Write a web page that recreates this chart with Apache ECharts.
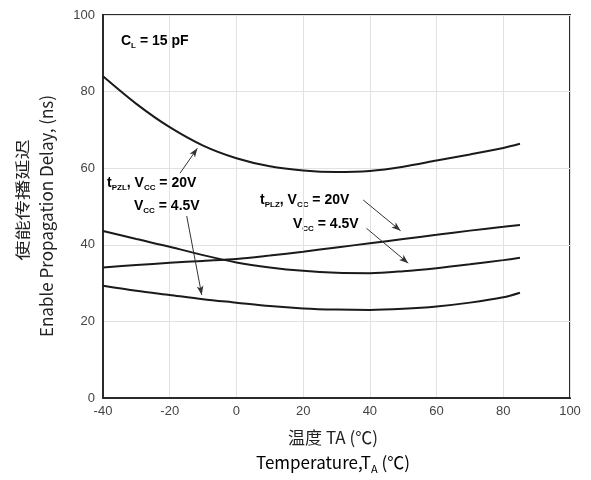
<!DOCTYPE html>
<html><head><meta charset="utf-8">
<script src="https://cdn.jsdelivr.net/npm/echarts@6/dist/echarts.min.js"></script>
<style>html,body{margin:0;padding:0;background:#fff}#c{width:591px;height:480px}</style>
</head><body><div id="c"></div>
<script>
var temps  = [-40, -30, -20, -10, 0, 10, 20, 30, 40, 50, 60, 70, 80, 85];
var tpzl20 = [84.0, 76.8, 70.7, 65.9, 62.6, 60.5, 59.4, 59.0, 59.3, 60.4, 62.0, 63.6, 65.3, 66.4];
var tplz45 = [43.6, 41.5, 39.5, 37.3, 35.4, 34.1, 33.2, 32.7, 32.6, 33.1, 33.9, 34.9, 36.0, 36.6];
var tplz20 = [34.1, 34.7, 35.3, 35.8, 36.3, 37.2, 38.2, 39.3, 40.4, 41.5, 42.6, 43.7, 44.7, 45.2];
var tpzl45 = [29.3, 28.0, 26.9, 25.8, 24.9, 24.0, 23.4, 23.1, 23.0, 23.3, 23.9, 24.9, 26.3, 27.5];
var xTicks = [-40, -20, 0, 20, 40, 60, 80, 100];
var yTicks = [0, 20, 40, 60, 80, 100];
var arrows = [
  [[-16.9, 58.7], [-11.7, 65.2]],
  [[-14.9, 47.5], [-10.4, 26.9]],
  [[38.0, 51.7], [49.2, 43.7]],
  [[39.0, 44.3], [51.5, 35.2]]
];

function pairs(ys){ return temps.map(function(t,i){return [t, ys[i]];}); }
var curves = [tpzl20, tplz45, tplz20, tpzl45];
var series = curves.map(function(c){
  return {type:'line', data:pairs(c), smooth:0.3, symbol:'none',
    lineStyle:{color:'#1a1a1a', width:2}, silent:true};
});
series.push({type:'line', data:[], markLine:{
  silent:true, symbol:['none','arrow'], symbolSize:[5,9],
  lineStyle:{color:'#333', width:1, type:'solid'}, label:{show:false},
  data: arrows.map(function(a){return [{coord:a[0]},{coord:a[1]}];})
}});

var rich = {
  m:{fontSize:14, fontWeight:'bold', fontFamily:'Liberation Sans, Arial', color:'#111', lineHeight:18, verticalAlign:'middle'},
  s:{fontSize:8, fontWeight:'bold', fontFamily:'Liberation Sans, Arial', color:'#111', lineHeight:9, verticalAlign:'bottom'}
};
function ann(x, y, txt){
  return {type:'text', left:x, top:y, style:{text:txt, rich:rich}};
}
var chart = echarts.init(document.getElementById('c'));
chart.setOption({
  animation:false,
  grid:{left:103, top:15, right:21, bottom:82, show:true, borderColor:'#2a2a2a', borderWidth:2, backgroundColor:'transparent'},
  xAxis:{type:'value', min:xTicks[0], max:xTicks[xTicks.length-1], interval:20,
    axisLine:{show:true, onZero:false, lineStyle:{color:'#2a2a2a', width:2}}, axisTick:{show:false},
    axisLabel:{color:'#444', fontSize:13, fontFamily:'Liberation Sans, Arial', margin:7},
    splitLine:{show:true, lineStyle:{color:'#e2e2e2', width:1}}},
  yAxis:{type:'value', min:yTicks[0], max:yTicks[yTicks.length-1], interval:20,
    axisLine:{show:true, onZero:false, lineStyle:{color:'#2a2a2a', width:2}}, axisTick:{show:false},
    axisLabel:{color:'#444', fontSize:13, fontFamily:'Liberation Sans, Arial', margin:8},
    splitLine:{show:true, lineStyle:{color:'#e2e2e2', width:1}}},
  series:series,
  graphic:[
    {type:'text', left:121, top:34, style:{text:'{m|C}{s|L}{m| = 15 pF}', rich:rich}},
    ann(107, 176, '{m|t}{s|PZL}{m|, V}{s|CC}{m| = 20V}'),
    ann(134, 199, '{m|V}{s|CC}{m| = 4.5V}'),
    ann(260, 193, '{m|t}{s|PLZ}{m|, V}{s|CC}{m| = 20V}'),
    ann(293, 217, '{m|V}{s|CC}{m| = 4.5V}'),
    {type:'text', x:333, y:438, style:{text:'温度 TA (℃)', fontSize:17, fontFamily:'Noto Sans CJK SC', fill:'#222', textAlign:'center', textVerticalAlign:'middle'}},
    {type:'text', x:333, y:463, style:{text:'{a|Temperature,T}{b|A}{a| (℃)}', textAlign:'center', textVerticalAlign:'middle',
      rich:{a:{fontSize:17, fontFamily:'Noto Sans CJK SC', color:'#222', lineHeight:22, verticalAlign:'middle'},
            b:{fontSize:11, fontFamily:'Noto Sans CJK SC', color:'#222', lineHeight:12, verticalAlign:'bottom'}}}},
    {type:'text', x:22, y:200, rotation:Math.PI/2, scaleX:1.35, style:{text:'使能传播延迟', fontSize:15, fontFamily:'Noto Sans CJK SC', fill:'#222', textAlign:'center', textVerticalAlign:'middle'}},
    {type:'text', x:47, y:216, rotation:Math.PI/2, style:{text:'Enable Propagation Delay, (ns)', fontSize:17, fontFamily:'Noto Sans CJK SC', fill:'#222', textAlign:'center', textVerticalAlign:'middle'}}
  ]
});
</script></body></html>
